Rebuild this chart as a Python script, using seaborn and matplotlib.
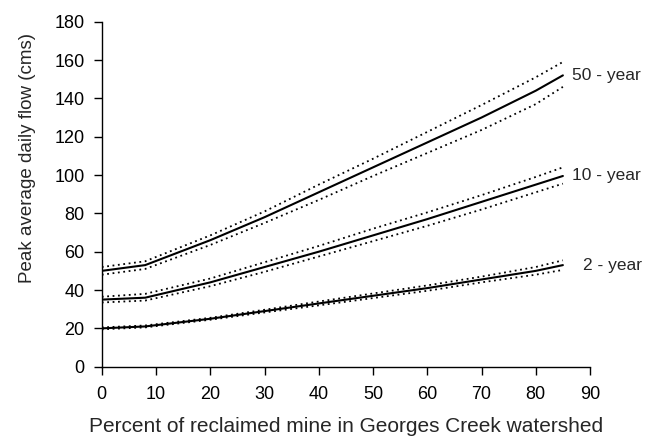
import matplotlib
matplotlib.use("Agg")
import matplotlib.pyplot as plt
import seaborn as sns
import pandas as pd

x_pct = [0, 8, 20, 30, 40, 50, 60, 70, 80, 85]

y50 = [50, 53, 66, 78, 91, 104, 117, 130, 144, 152]
y50_hi = [52, 55, 68.5, 81, 95, 108.5, 122.5, 136.5, 151, 159]
y50_lo = [48, 51, 63.5, 75, 87, 99.5, 111.5, 123.5, 137, 146]

y10 = [35, 36, 44, 52, 60, 68.5, 77, 86, 95, 99.5]
y10_hi = [36.5, 38, 46, 54.5, 63, 72, 80.5, 89.5, 99, 104]
y10_lo = [33.5, 34.5, 42, 49.5, 57.5, 65.5, 73.5, 82, 91, 95.5]

y2 = [20, 21, 25, 29, 33, 37, 41, 45.5, 50, 53]
y2_hi = [20.5, 21.5, 25.5, 29.7, 34, 38.2, 42.4, 47, 52, 55.5]
y2_lo = [19.5, 20.5, 24.5, 28.3, 32, 35.8, 39.6, 44, 48, 50.5]

labels = ["50 - year", "10 - year", "2 - year"]
x_ticks = [0, 10, 20, 30, 40, 50, 60, 70, 80, 90]
y_ticks = [0, 20, 40, 60, 80, 100, 120, 140, 160, 180]

sns.set_style("ticks")
plt.rcParams["font.family"] = ["Liberation Sans", "DejaVu Sans"]

fig = plt.figure(figsize=(6.61, 4.41), dpi=100)
ax = fig.add_axes([0.154, 0.1685, 0.7386, 0.7823])

series = [
    (y50, y50_hi, y50_lo),
    (y10, y10_hi, y10_lo),
    (y2, y2_hi, y2_lo),
]
for mid, hi, lo in series:
    df = pd.DataFrame({"x": x_pct, "mid": mid, "hi": hi, "lo": lo})
    sns.lineplot(data=df, x="x", y="mid", ax=ax, color="black", linewidth=1.5)
    for col in ("hi", "lo"):
        sns.lineplot(data=df, x="x", y=col, ax=ax, color="black",
                     linewidth=1.3, linestyle=(0, (1, 2)))

label_x = [86.7, 86.7, 88.7]
for (mid, _, _), lab, lx in zip(series, labels, label_x):
    ax.text(lx, mid[-1], lab, fontsize=12.5, va="center", ha="left")

ax.set_xlim(0, 90)
ax.set_ylim(0, 180)
ax.set_xticks(x_ticks)
ax.set_yticks(y_ticks)
ax.tick_params(axis="both", labelsize=13, length=6, width=1, color="black",
               labelcolor="black")
ax.tick_params(axis="x", pad=8)
ax.tick_params(axis="y", pad=6.5)
ax.set_xlabel("Percent of reclaimed mine in Georges Creek watershed",
              fontsize=15, labelpad=10)
ax.set_ylabel("Peak average daily flow (cms)", fontsize=13.5)
ax.yaxis.set_label_coords(-0.135, 0.605)
sns.despine(ax=ax)
for s in ("left", "bottom"):
    ax.spines[s].set_color("black")
    ax.spines[s].set_linewidth(1)

fig.savefig("out.png", dpi=100)
